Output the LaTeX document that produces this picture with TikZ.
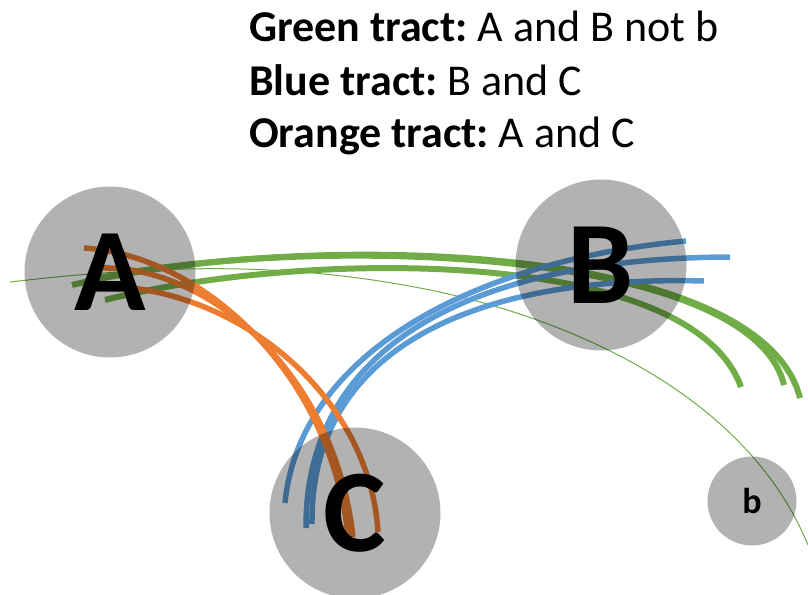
\documentclass[tikz,border=0pt]{standalone}
\usepackage{fontspec}
\setmainfont{Carlito}
\usetikzlibrary{backgrounds,calc}
\definecolor{tractgreen}{HTML}{70AD47}
\definecolor{tractblue}{HTML}{5B9BD5}
\definecolor{tractorange}{HTML}{ED7D31}
\frenchspacing
\begin{document}
\begin{tikzpicture}[x=1pt,y=-1pt,
  region/.style={circle,fill=black,fill opacity=.3,text opacity=1,inner sep=0pt},
  bigletter/.style={font=\bfseries\fontsize{118}{118}\selectfont},
  tract/.style={line width=5.5pt},
  legend/.style={anchor=base west,inner sep=0pt,font=\fontsize{44}{52}\selectfont}]
\useasboundingbox (0,0) rectangle (808,594);
% legend
\node[legend] (legG) at (249,42) {\textbf{Green tract:} A and B not b};
\node[legend] (legB) at (249,95) {\textbf{Blue tract:} B and C};
\node[legend] (legO) at (249,147) {\textbf{Orange tract:} A and C};
% regions
\node[region,minimum size=171pt,bigletter] (A) at (110,272) {A};
\node[region,minimum size=171pt,bigletter] (B) at (601,265) {B};
\node[region,minimum size=171pt,bigletter] (C) at (355,513) {C};
\node[region,minimum size=89pt,font=\bfseries\fontsize{36}{36}\selectfont] (b) at (752,501) {b};
\coordinate (thinS) at (10,282);
\coordinate (thinM) at (420,288);
\coordinate (thinE) at (808,545);
\begin{pgfonlayer}{background}
% green tract
\draw[tractgreen,line width=1pt] (thinS) .. controls (180,262) and (300,265) .. (thinM)
  .. controls (540,311) and (740,380) .. (thinE);
\draw[tract,tractgreen,line width=6pt] ($(A)+(-38,13)$) .. controls (300,230) and (760,240) .. ($(B)+(199,133)$);
\draw[tract,tractgreen,line width=6pt] ($(A)+(-20,8)$) .. controls (300,234) and (750,245) .. ($(B)+(183,120)$);
\draw[tract,tractgreen,line width=6pt] ($(A)+(-5,28)$) .. controls (300,250) and (690,245) .. ($(B)+(140,122)$);
% blue tract
\draw[tract,tractblue] ($(C)+(-70,-10)$) .. controls (300,350) and (480,260) .. ($(B)+(85,-24)$);
\draw[tract,tractblue] ($(C)+(-49,15)$) .. controls (305,350) and (465,258) .. ($(B)+(129,-8)$);
\draw[tract,tractblue] ($(C)+(-43,11)$) .. controls (310,345) and (480,275) .. ($(B)+(103,16)$);
% orange tract
\draw[tract,tractorange] ($(A)+(-26,-24)$) .. controls (200,255) and (330,370) .. ($(C)+(-7,23)$);
\draw[tract,tractorange] ($(A)+(-10,-4)$) .. controls (210,265) and (335,375) .. ($(C)+(-2,24)$);
\draw[tract,tractorange] ($(A)+(0,14)$) .. controls (245,292) and (370,400) .. ($(C)+(23,19)$);
\end{pgfonlayer}
\end{tikzpicture}
\end{document}
